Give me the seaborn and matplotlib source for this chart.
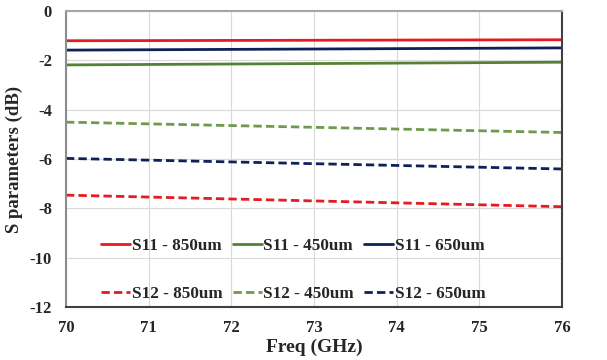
import matplotlib
matplotlib.use("Agg")
import matplotlib.pyplot as plt
import seaborn as sns
import pandas as pd

freq = [70, 76]
s11_850 = [-1.20, -1.16]
s11_450 = [-2.18, -2.07]
s11_650 = [-1.58, -1.49]
s12_850 = [-7.46, -7.93]
s12_450 = [-4.50, -4.92]
s12_650 = [-5.97, -6.40]

series = [
    ("S11 - 850um", s11_850, "#E31B23", "-"),
    ("S12 - 850um", s12_850, "#E31B23", "--"),
    ("S11 - 450um", s11_450, "#548235", "-"),
    ("S12 - 450um", s12_450, "#6E9A4E", "--"),
    ("S11 - 650um", s11_650, "#0F2157", "-"),
    ("S12 - 650um", s12_650, "#0F2157", "--"),
]

sns.set_theme(style="white")
plt.rcParams['font.family'] = ['Liberation Serif', 'DejaVu Serif']
plt.rcParams['font.weight'] = 'bold'
plt.rcParams['axes.unicode_minus'] = False

fig = plt.figure(figsize=(6.07, 3.6), dpi=100)
ax = fig.add_axes([0.1087, 0.147, 0.8173, 0.822])

for name, vals, col, ls in series:
    df = pd.DataFrame({"freq": freq, "val": vals})
    kw = dict(dashes=(3, 1.5)) if ls == "--" else {}
    sns.lineplot(data=df, x="freq", y="val", ax=ax, color=col,
                 linewidth=2, label=name, **kw)

ax.set_xlim(70, 76)
ax.set_ylim(-12, 0)
ax.set_xticks(range(70, 77))
ax.set_yticks(range(-12, 1, 2))
ax.grid(True, color="#D9D9D9", linewidth=0.8)
ax.tick_params(axis='x', labelsize=12, length=0, pad=9)
ax.tick_params(axis='y', labelsize=12, length=0, pad=10)
for lab in ax.get_xticklabels() + ax.get_yticklabels():
    lab.set_fontweight('bold')
ax.set_xlabel("Freq (GHz)", fontsize=14, fontweight='bold', labelpad=2)
ax.set_ylabel("S parameters (dB)", fontsize=13.5, fontweight='bold', labelpad=5)

ax.spines['left'].set_color('#8C8C8C')
ax.spines['top'].set_color('#A6A6A6')
ax.spines['right'].set_color('#404040')
ax.spines['bottom'].set_color('#404040')
for s in ax.spines.values():
    s.set_linewidth(1.5)

leg = ax.legend(ncol=3, loc='lower center', bbox_to_anchor=(0.458, -0.022),
                frameon=False, fontsize=12.3, handlelength=1.7, handletextpad=0.1,
                columnspacing=0.6, labelspacing=1.85, borderaxespad=0.3)
for t in leg.get_texts():
    t.set_fontweight('bold')

fig.savefig("out.png", dpi=100)
